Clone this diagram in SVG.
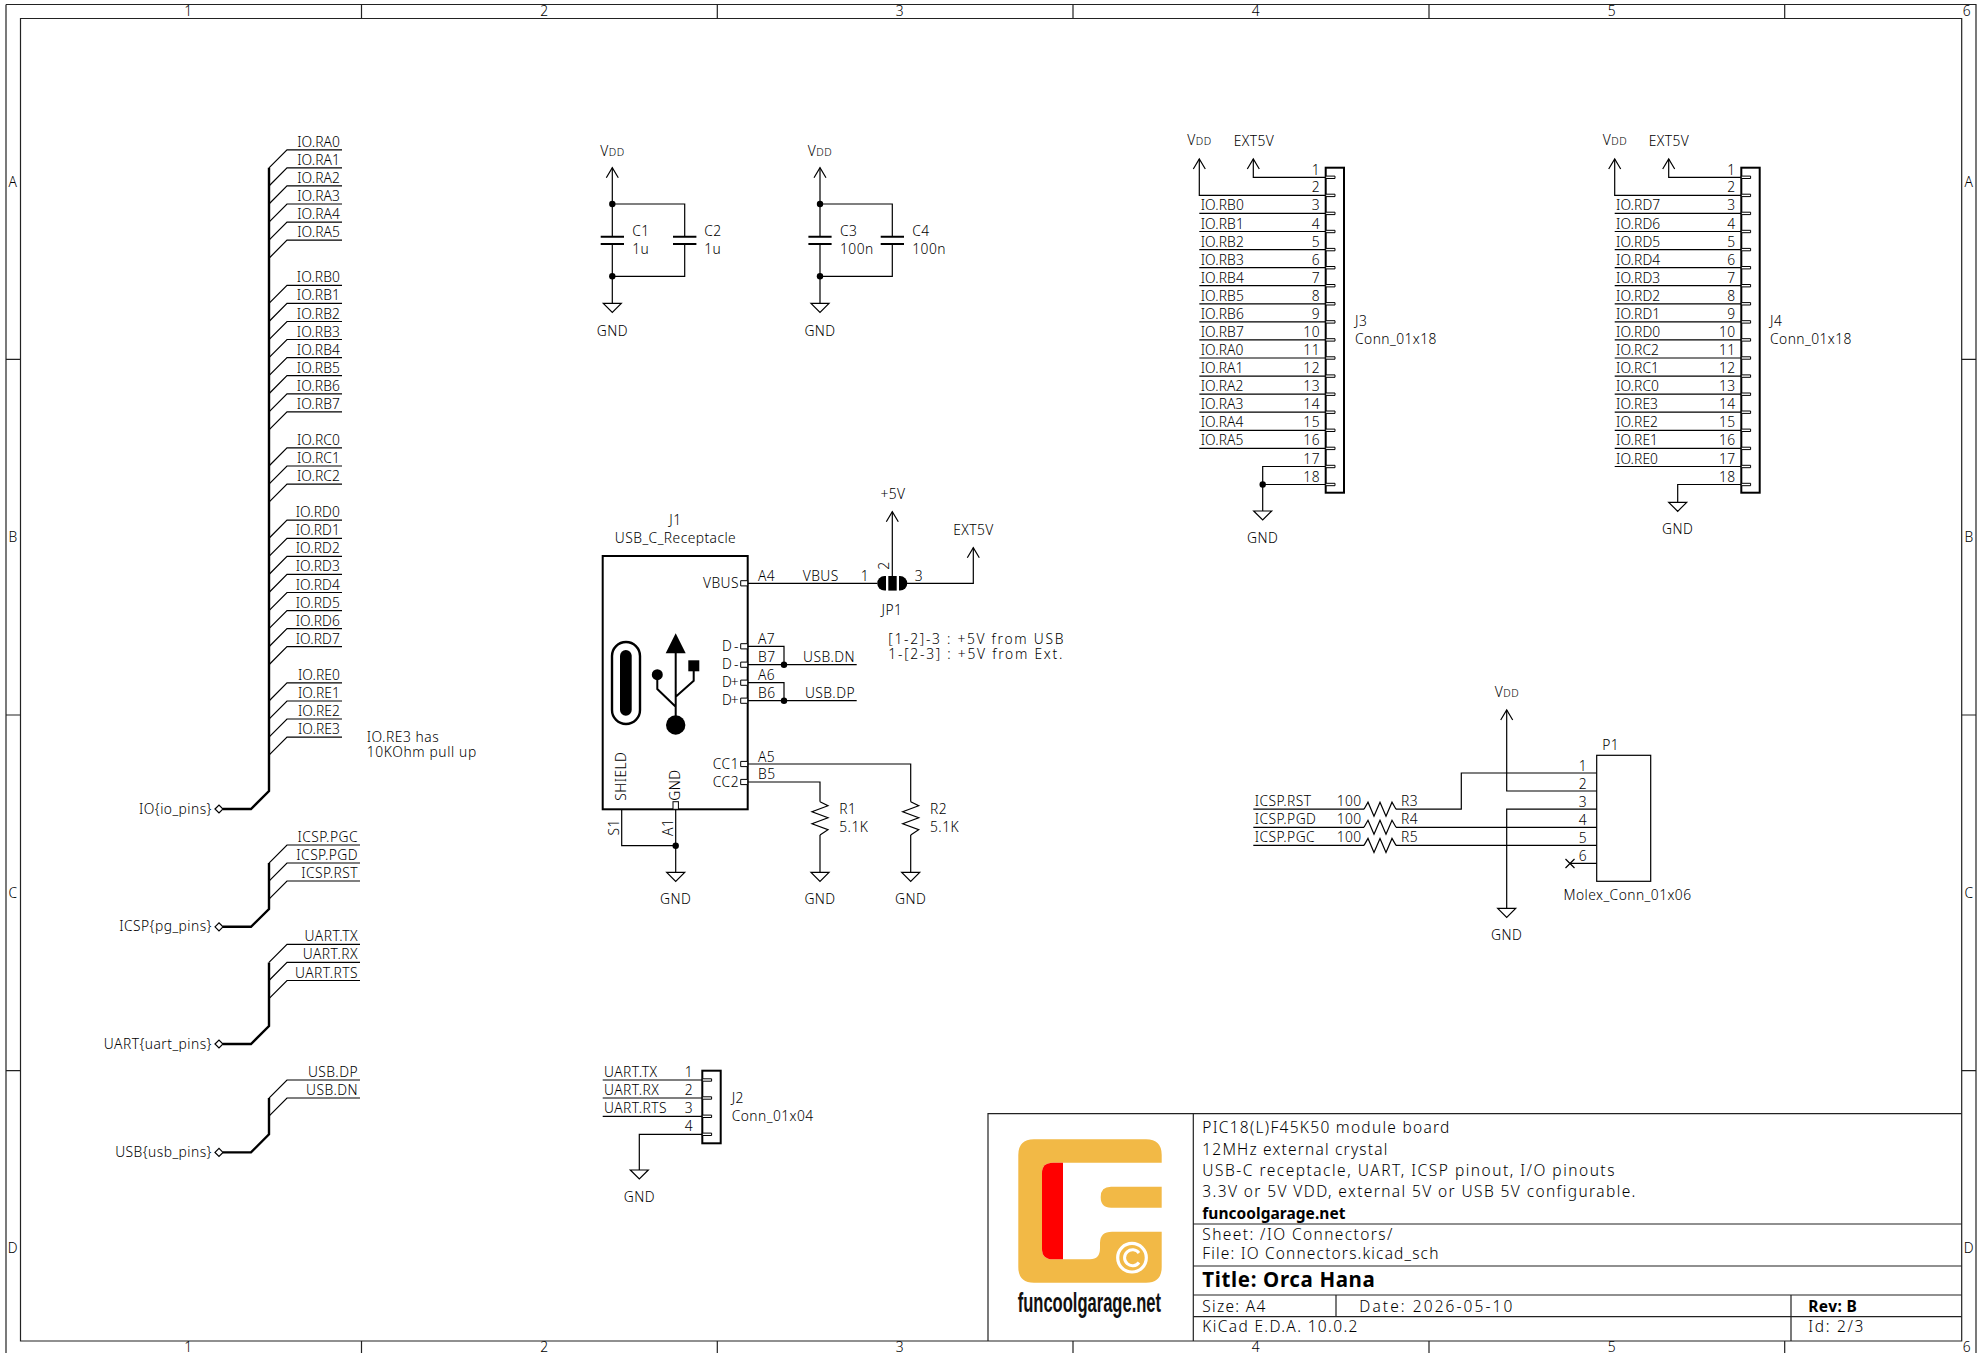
<svg xmlns="http://www.w3.org/2000/svg" width="1984" height="1353" viewBox="0 0 1984 1353">
<style>
text{font-family:"Noto Sans","DejaVu Sans",sans-serif;font-size:13.8px;font-weight:300;fill:#000;letter-spacing:.45px}
.e{text-anchor:end}.m{text-anchor:middle}
.tb{font-size:15.5px;letter-spacing:.9px}
.b{font-weight:700}
.io{letter-spacing:.1px}
.w{fill:none;stroke:#000;stroke-width:1.2}
.bus{fill:none;stroke:#000;stroke-width:2.4}
.s{fill:none;stroke:#000;stroke-width:2}
.f{fill:none;stroke:#222;stroke-width:1.2}
.d{fill:#000}
.pad{fill:#fff;stroke:#000;stroke-width:1}
.sm{font-size:10.5px}
</style>
<defs>
<path id="pwr" class="w" d="M-6,10 L0,0 L6,10"/>
<path id="gnd" class="w" d="M-9,0 H9 L0,9 Z"/>
<path id="en" class="w" d="M269,18.07 L287,0 H342"/>
<path id="en2" class="w" d="M269,18.07 L287,0 H360"/>
<path id="padr" class="pad" d="M0,-1.2 H9.3 V1.2 H0 Z"/>
<path id="padl" class="pad" d="M-7,-2.6 H0 V2.6 H-7 Z"/>
<path id="rv" class="w" d="M0,0 L8,4 L-8,10 L8,16 L-8,22 L8,28 L0,33.3"/>
<path id="rh" class="w" d="M0,0 L4,-7 L10,7 L16,-7 L22,7 L28,-7 L32,0"/>
</defs>
<rect width="1984" height="1353" fill="#fff"/>

<g id="frame">
<path class="f" d="M6,4.5 H1976 V1353 M6,1353 V4.5 M20.5,18.5 H1961.7 V1341 H20.5 Z"/>
<path class="f" d="M361.5,4.5 V18.5 M717.3,4.5 V18.5 M1073,4.5 V18.5 M1429,4.5 V18.5 M1784.7,4.5 V18.5 M361.5,1341 V1353 M717.3,1341 V1353 M1073,1341 V1353 M1429,1341 V1353 M1784.7,1341 V1353"/>
<path class="f" d="M6,359.4 H20.5 M6,715 H20.5 M6,1070.7 H20.5 M1961.7,359.4 H1976 M1961.7,715 H1976 M1961.7,1070.7 H1976"/>
<text class="m" x="188.5" y="16">1</text><text class="m" x="544.5" y="16">2</text><text class="m" x="900" y="16">3</text><text class="m" x="1256" y="16">4</text><text class="m" x="1612" y="16">5</text><text class="m" x="1967" y="16">6</text>
<text class="m" x="188.5" y="1352">1</text><text class="m" x="544.5" y="1352">2</text><text class="m" x="900" y="1352">3</text><text class="m" x="1256" y="1352">4</text><text class="m" x="1612" y="1352">5</text><text class="m" x="1967" y="1352">6</text>
<text class="m" x="13" y="187">A</text><text class="m" x="13" y="542">B</text><text class="m" x="13" y="898">C</text><text class="m" x="13" y="1253">D</text>
<text class="m" x="1969" y="187">A</text><text class="m" x="1969" y="542">B</text><text class="m" x="1969" y="898">C</text><text class="m" x="1969" y="1253">D</text>
</g>

<g id="title-block">
<path class="f" d="M988,1341 V1113.7 H1961.7 M1193.3,1113.7 V1341 M1193.3,1224 H1961.7 M1193.3,1266 H1961.7 M1193.3,1295 H1961.7 M1193.3,1316.7 H1961.7 M1336,1295 V1316.7 M1791,1295 V1341"/>
<text class="tb" x="1202.3" y="1133.3" textLength="248">PIC18(L)F45K50 module board</text>
<text class="tb" x="1202.3" y="1155" textLength="186">12MHz external crystal</text>
<text class="tb" x="1202.3" y="1176.3" textLength="413">USB-C receptacle, UART, ICSP pinout, I/O pinouts</text>
<text class="tb" x="1202.3" y="1197.3" textLength="434">3.3V or 5V VDD, external 5V or USB 5V configurable.</text>
<text class="tb b" x="1202.3" y="1219" textLength="144">funcoolgarage.net</text>
<text class="tb" x="1202.3" y="1240" textLength="191">Sheet: /IO Connectors/</text>
<text class="tb" x="1202.3" y="1259.3" textLength="237">File: IO Connectors.kicad_sch</text>
<text class="b" style="font-size:20.5px" x="1202.3" y="1286.7" textLength="173">Title: Orca Hana</text>
<text class="tb" x="1202.3" y="1312.3" textLength="64">Size: A4</text>
<text class="tb" x="1359.3" y="1312.3" textLength="154">Date: 2026-05-10</text>
<text class="tb" x="1202.3" y="1332.3" textLength="156">KiCad E.D.A. 10.0.2</text>
<text class="tb b" x="1808.3" y="1312.3" textLength="49.5">Rev: B</text>
<text class="tb" x="1808.3" y="1332.3" textLength="56">Id: 2/3</text>
</g>

<g id="logo">
<path fill="#F2B946" d="M1034,1139.3 H1146 Q1161.7,1139.3 1161.7,1155 V1162.7 H1053 Q1042,1162.7 1042,1173 V1249 Q1042,1259.3 1053,1259.3 H1090 Q1100,1259.3 1100,1248 V1243 Q1100,1231.7 1112,1231.7 H1161.7 V1267 Q1161.7,1282.7 1146,1282.7 H1034 Q1018.3,1282.7 1018.3,1267 V1155 Q1018.3,1139.3 1034,1139.3 Z"/>
<path fill="#F2B946" d="M1161.7,1186.7 H1111 Q1100.7,1186.7 1100.7,1197 Q1100.7,1207.7 1111,1207.7 H1161.7 Z"/>
<path fill="#FF0000" d="M1063,1162.7 H1053 Q1042,1162.7 1042,1173 V1249 Q1042,1259.3 1053,1259.3 H1063 Z"/>
<circle cx="1132" cy="1257.7" r="14.3" fill="none" stroke="#fff" stroke-width="3.2"/>
<path d="M1139,1253 A8,8 0 1 0 1139,1262.5" fill="none" stroke="#fff" stroke-width="3"/>
<text class="b" style="font-family:'Liberation Sans',sans-serif;font-size:28px;fill:#111;letter-spacing:0" transform="translate(1017.7,1311.7) scale(.591,1)">funcoolgarage.net</text>
</g>

<g id="connectors">
<path class="bus" d="M269,167.8 V791 L251,809 H223"/>
<path class="bus" d="M269,863 V909 L251,926.8 H223"/>
<path class="bus" d="M269,962.4 V1026 L251,1044 H223"/>
<path class="bus" d="M269,1098 V1134.3 L251,1152.4 H223"/>
<use href="#en" y="149.8"/><use href="#en" y="167.9"/><use href="#en" y="185.9"/><use href="#en" y="204"/><use href="#en" y="222.1"/><use href="#en" y="240.2"/>
<use href="#en" y="285.3"/><use href="#en" y="303.4"/><use href="#en" y="321.5"/><use href="#en" y="339.5"/><use href="#en" y="357.6"/><use href="#en" y="375.7"/><use href="#en" y="393.8"/><use href="#en" y="411.8"/>
<use href="#en" y="447.9"/><use href="#en" y="466"/><use href="#en" y="484.1"/>
<use href="#en" y="520.2"/><use href="#en" y="538.3"/><use href="#en" y="556.4"/><use href="#en" y="574.4"/><use href="#en" y="592.5"/><use href="#en" y="610.6"/><use href="#en" y="628.7"/><use href="#en" y="646.7"/>
<use href="#en" y="682.9"/><use href="#en" y="701"/><use href="#en" y="719"/><use href="#en" y="737.1"/>
<use href="#en2" y="845"/><use href="#en2" y="863"/><use href="#en2" y="881"/>
<use href="#en2" y="944.3"/><use href="#en2" y="962.4"/><use href="#en2" y="980.5"/>
<use href="#en2" y="1080"/><use href="#en2" y="1098"/>
<path class="w" d="M612.3,167.7 V236.7 M612.3,244 V303.3 M612.3,204 H684.7 V236.7 M684.7,244 V276.3 H612.3"/>
<path class="w" d="M820,167.7 V236.7 M820,244 V303.3 M820,204 H892.3 V236.7 M892.3,244 V276.3 H820"/>
<path class="w" d="M747.7,583.3 H877 M892.3,576 V511.7 M907,583.3 H973.3 V547.7"/>
<path class="w" d="M747.7,646.3 H784 V664.7 M747.7,664.7 H856.7 M747.7,682.7 H784 V700.7 M747.7,700.7 H856.7"/>
<path class="w" d="M747.7,764 H910.7 V801.7 M910.7,835 V872.3 M747.7,782 H820 V801.7 M820,835 V872.3"/>
<path class="w" d="M621.7,809.3 V845.7 H675.7 M675.7,809.3 V872.3"/>
<path class="w" d="M1253.3,159 V177.3 H1325.7 M1199.3,159 V195.4 H1325.7"/>
<path class="w" d="M1199.3,213.4 H1325.7 M1199.3,231.5 H1325.7 M1199.3,249.6 H1325.7 M1199.3,267.7 H1325.7 M1199.3,285.7 H1325.7 M1199.3,303.8 H1325.7 M1199.3,321.9 H1325.7 M1199.3,339.9 H1325.7 M1199.3,358 H1325.7 M1199.3,376.1 H1325.7 M1199.3,394.2 H1325.7 M1199.3,412.2 H1325.7 M1199.3,430.3 H1325.7 M1199.3,448.4 H1325.7"/>
<path class="w" d="M1325.7,466.5 H1262.7 V511 M1262.7,484.5 H1325.7"/>
<path class="w" d="M1668.7,159 V177.3 H1741.3 M1614.7,159 V195.4 H1741.3"/>
<path class="w" d="M1614.7,213.4 H1741.3 M1614.7,231.5 H1741.3 M1614.7,249.6 H1741.3 M1614.7,267.7 H1741.3 M1614.7,285.7 H1741.3 M1614.7,303.8 H1741.3 M1614.7,321.9 H1741.3 M1614.7,339.9 H1741.3 M1614.7,358 H1741.3 M1614.7,376.1 H1741.3 M1614.7,394.2 H1741.3 M1614.7,412.2 H1741.3 M1614.7,430.3 H1741.3 M1614.7,448.4 H1741.3 M1614.7,466.5 H1741.3"/>
<path class="w" d="M1741.3,484.5 H1677.7 V502.3"/>
<path class="w" d="M602.7,1080 H702.3 M602.7,1098 H702.3 M602.7,1116.3 H702.3 M702.3,1134.3 H639.3 V1170"/>
<path class="w" d="M1506.7,710 V791 H1596.7 M1596.7,809.2 H1506.7 V908.3 M1596.7,773 H1461.3 V809.2 H1396 M1253.3,809.2 H1364 M1253.3,827.3 H1364 M1396,827.3 H1596.7 M1253.3,845.4 H1364 M1396,845.4 H1596.7 M1596.7,863.4 H1570"/>
<path class="w" d="M1565.5,859 L1574.5,868 M1574.5,859 L1565.5,868"/>
</g>

<g id="labels-io">
<text class="e io" x="340" y="146.8">IO.RA0</text><text class="e io" x="340" y="164.9">IO.RA1</text><text class="e io" x="340" y="182.9">IO.RA2</text><text class="e io" x="340" y="201">IO.RA3</text><text class="e io" x="340" y="219.1">IO.RA4</text><text class="e io" x="340" y="237.2">IO.RA5</text>
<text class="e io" x="340" y="282.3">IO.RB0</text><text class="e io" x="340" y="300.4">IO.RB1</text><text class="e io" x="340" y="318.5">IO.RB2</text><text class="e io" x="340" y="336.5">IO.RB3</text><text class="e io" x="340" y="354.6">IO.RB4</text><text class="e io" x="340" y="372.7">IO.RB5</text><text class="e io" x="340" y="390.8">IO.RB6</text><text class="e io" x="340" y="408.8">IO.RB7</text>
<text class="e io" x="340" y="444.9">IO.RC0</text><text class="e io" x="340" y="463">IO.RC1</text><text class="e io" x="340" y="481.1">IO.RC2</text>
<text class="e io" x="340" y="517.2">IO.RD0</text><text class="e io" x="340" y="535.3">IO.RD1</text><text class="e io" x="340" y="553.4">IO.RD2</text><text class="e io" x="340" y="571.4">IO.RD3</text><text class="e io" x="340" y="589.5">IO.RD4</text><text class="e io" x="340" y="607.6">IO.RD5</text><text class="e io" x="340" y="625.7">IO.RD6</text><text class="e io" x="340" y="643.7">IO.RD7</text>
<text class="e io" x="340" y="679.9">IO.RE0</text><text class="e io" x="340" y="698">IO.RE1</text><text class="e io" x="340" y="716">IO.RE2</text><text class="e io" x="340" y="734.1">IO.RE3</text>
<text class="e" x="358" y="842">ICSP.PGC</text><text class="e" x="358" y="860">ICSP.PGD</text><text class="e" x="358" y="878">ICSP.RST</text>
<text class="e" x="358" y="941.3">UART.TX</text><text class="e" x="358" y="959.4">UART.RX</text><text class="e" x="358" y="977.5">UART.RTS</text>
<text class="e" x="358" y="1077">USB.DP</text><text class="e" x="358" y="1095">USB.DN</text>
<text><tspan x="366.7" y="741.7" textLength="72.5">IO.RE3 has</tspan><tspan x="366.7" y="756.7" textLength="110">10KOhm pull up</tspan></text>
</g>

<g id="port-io"><path class="w" d="M215,809 L219,805 L223,809 L219,813 Z"/><text class="e" x="212" y="813.5">IO{io_pins}</text></g>
<g id="port-icsp"><path class="w" d="M215,926.8 L219,922.8 L223,926.8 L219,930.8 Z"/><text class="e" x="212" y="931.3">ICSP{pg_pins}</text></g>
<g id="port-uart"><path class="w" d="M215,1044 L219,1040 L223,1044 L219,1048 Z"/><text class="e" x="212" y="1048.5">UART{uart_pins}</text></g>
<g id="port-usb"><path class="w" d="M215,1152.4 L219,1148.4 L223,1152.4 L219,1156.4 Z"/><text class="e" x="212" y="1156.9">USB{usb_pins}</text></g>

<g id="C1"><path class="s" d="M600.7,236.7 H624 M600.7,244 H624"/><text x="632.3" y="236">C1</text><text x="632.3" y="254">1u</text></g>
<g id="C2"><path class="s" d="M673,236.7 H696.4 M673,244 H696.4"/><text x="704.3" y="236">C2</text><text x="704.3" y="254">1u</text></g>
<g id="C3"><path class="s" d="M808.4,236.7 H831.6 M808.4,244 H831.6"/><text x="840" y="236">C3</text><text x="840" y="254">100n</text></g>
<g id="C4"><path class="s" d="M880.7,236.7 H904 M880.7,244 H904"/><text x="912.3" y="236">C4</text><text x="912.3" y="254">100n</text></g>
<g id="pwr-caps">
<use href="#pwr" x="612.3" y="167.7"/><text class="m" x="612.5" y="155.5">V<tspan class="sm">DD</tspan></text>
<circle class="d" cx="612.3" cy="204" r="3.2"/><circle class="d" cx="612.3" cy="276.3" r="3.2"/>
<use href="#gnd" x="612.3" y="303.3"/><text class="m" x="612.3" y="335.7">GND</text>
<use href="#pwr" x="820" y="167.7"/><text class="m" x="820" y="155.5">V<tspan class="sm">DD</tspan></text>
<circle class="d" cx="820" cy="204" r="3.2"/><circle class="d" cx="820" cy="276.3" r="3.2"/>
<use href="#gnd" x="820" y="303.3"/><text class="m" x="820" y="335.7">GND</text>
</g>

<g id="J1">
<rect class="s" x="602.7" y="556" width="145" height="253.3"/>
<text class="m" x="675.5" y="524.7">J1</text><text class="m" x="675.5" y="542.7">USB_C_Receptacle</text>
<use href="#padl" x="747.7" y="583.3"/><use href="#padl" x="747.7" y="646.3"/><use href="#padl" x="747.7" y="664.7"/><use href="#padl" x="747.7" y="682.7"/><use href="#padl" x="747.7" y="700.7"/><use href="#padl" x="747.7" y="764"/><use href="#padl" x="747.7" y="782"/>
<rect class="pad" x="673" y="801.7" width="5.4" height="7.6"/>
<text class="e" x="739" y="587.8">VBUS</text><text class="e" x="739" y="650.8" textLength="17">D-</text><text class="e" x="739" y="669.2" textLength="17">D-</text><text class="e" x="739" y="687.2" textLength="17">D+</text><text class="e" x="739" y="705.2" textLength="17">D+</text><text class="e" x="739" y="768.5">CC1</text><text class="e" x="739" y="786.5">CC2</text>
<text x="758" y="580.7">A4</text><text x="758" y="644">A7</text><text x="758" y="661.7">B7</text><text x="758" y="680">A6</text><text x="758" y="698">B6</text><text x="758" y="761.7">A5</text><text x="758" y="779.3">B5</text>
<text x="802.7" y="580.7">VBUS</text><text class="e" x="855" y="661.7">USB.DN</text><text class="e" x="855" y="697.7">USB.DP</text>
<circle class="d" cx="784" cy="664.7" r="3.2"/><circle class="d" cx="784" cy="700.7" r="3.2"/><circle class="d" cx="675.7" cy="845.7" r="3.2"/>
<text transform="translate(626,800.7) rotate(-90)">SHIELD</text>
<text transform="translate(680,800.7) rotate(-90)">GND</text>
<text class="m" transform="translate(619.3,827.3) rotate(-90)">S1</text>
<text class="m" transform="translate(673.3,827.3) rotate(-90)">A1</text>
<rect x="612" y="642" width="28" height="82" rx="14" fill="none" stroke="#000" stroke-width="2.4"/>
<rect x="620" y="650" width="11.7" height="65.7" rx="5.8" fill="#000"/>
<path fill="#000" d="M675.7,633.3 L685.7,653.3 H665.7 Z"/>
<circle class="d" cx="675.7" cy="725" r="9.7"/>
<circle class="d" cx="657.3" cy="674.7" r="5.5"/>
<rect class="d" x="688.3" y="660.3" width="11" height="11"/>
<path class="s" d="M675.7,650 V720 M657.3,676 V689 L675.7,706.7 M693.7,670 V680.7 L675.7,696.7"/>
<use href="#gnd" x="675.7" y="872.3"/><text class="m" x="675.7" y="904.3">GND</text>
</g>

<g id="JP1">
<path class="d" d="M886,576 V590.6 H884.5 A7.3,7.3 0 0 1 884.5,576 Z"/>
<rect class="d" x="888.3" y="576" width="8.4" height="14.6"/>
<path class="d" d="M899,576 V590.6 H900 A7.3,7.3 0 0 0 900,576 Z"/>
<text class="m" x="865" y="580.7">1</text><text class="m" x="919" y="580.7">3</text>
<text class="m" transform="translate(889,565.7) rotate(-90)">2</text>
<text class="m" x="892" y="614.7">JP1</text>
<use href="#pwr" x="892.3" y="511.7"/><text class="m" x="893" y="498.5">+5V</text>
<use href="#pwr" x="973.3" y="547.7"/><text class="m" x="973.5" y="534.5">EXT5V</text>
<text><tspan x="888.3" y="644" textLength="175.5">[1-2]-3 : +5V from USB</tspan><tspan x="888.3" y="659" textLength="174.5">1-[2-3] : +5V from Ext.</tspan></text>
</g>

<g id="R1"><use href="#rv" x="820" y="801.7"/><text x="839.3" y="814">R1</text><text x="839.3" y="832">5.1K</text><use href="#gnd" x="820" y="872.3"/><text class="m" x="820" y="904.3">GND</text></g>
<g id="R2"><use href="#rv" x="910.7" y="801.7"/><text x="930" y="814">R2</text><text x="930" y="832">5.1K</text><use href="#gnd" x="910.7" y="872.3"/><text class="m" x="910.7" y="904.3">GND</text></g>

<g id="J2">
<rect class="s" x="702.3" y="1070.7" width="18.4" height="72.6"/>
<use href="#padr" x="702.3" y="1080"/><use href="#padr" x="702.3" y="1098"/><use href="#padr" x="702.3" y="1116.3"/><use href="#padr" x="702.3" y="1134.3"/>
<text x="604" y="1077">UART.TX</text><text x="604" y="1095">UART.RX</text><text x="604" y="1113.3">UART.RTS</text>
<text class="m" x="689" y="1077">1</text><text class="m" x="689" y="1095">2</text><text class="m" x="689" y="1113.3">3</text><text class="m" x="689" y="1131.3">4</text>
<text x="731.7" y="1102.7">J2</text><text x="731.7" y="1120.7">Conn_01x04</text>
<use href="#gnd" x="639.3" y="1170"/><text class="m" x="639.3" y="1201.7">GND</text>
</g>

<g id="J3">
<rect class="s" x="1325.7" y="167.7" width="18.3" height="325"/>
<use href="#padr" x="1325.7" y="177.3"/><use href="#padr" x="1325.7" y="195.4"/><use href="#padr" x="1325.7" y="213.4"/><use href="#padr" x="1325.7" y="231.5"/><use href="#padr" x="1325.7" y="249.6"/><use href="#padr" x="1325.7" y="267.7"/><use href="#padr" x="1325.7" y="285.7"/><use href="#padr" x="1325.7" y="303.8"/><use href="#padr" x="1325.7" y="321.9"/><use href="#padr" x="1325.7" y="339.9"/><use href="#padr" x="1325.7" y="358"/><use href="#padr" x="1325.7" y="376.1"/><use href="#padr" x="1325.7" y="394.2"/><use href="#padr" x="1325.7" y="412.2"/><use href="#padr" x="1325.7" y="430.3"/><use href="#padr" x="1325.7" y="448.4"/><use href="#padr" x="1325.7" y="466.5"/><use href="#padr" x="1325.7" y="484.5"/>
<text class="e" x="1320" y="174.8">1</text><text class="e" x="1320" y="192.4">2</text><text class="e" x="1320" y="210.4">3</text><text class="e" x="1320" y="228.5">4</text><text class="e" x="1320" y="246.6">5</text><text class="e" x="1320" y="264.7">6</text><text class="e" x="1320" y="282.7">7</text><text class="e" x="1320" y="300.8">8</text><text class="e" x="1320" y="318.9">9</text><text class="e" x="1320" y="336.9">10</text><text class="e" x="1320" y="355">11</text><text class="e" x="1320" y="373.1">12</text><text class="e" x="1320" y="391.2">13</text><text class="e" x="1320" y="409.2">14</text><text class="e" x="1320" y="427.3">15</text><text class="e" x="1320" y="445.4">16</text><text class="e" x="1320" y="463.5">17</text><text class="e" x="1320" y="481.5">18</text>
<text class="io" x="1200.7" y="210.4">IO.RB0</text><text class="io" x="1200.7" y="228.5">IO.RB1</text><text class="io" x="1200.7" y="246.6">IO.RB2</text><text class="io" x="1200.7" y="264.7">IO.RB3</text><text class="io" x="1200.7" y="282.7">IO.RB4</text><text class="io" x="1200.7" y="300.8">IO.RB5</text><text class="io" x="1200.7" y="318.9">IO.RB6</text><text class="io" x="1200.7" y="336.9">IO.RB7</text><text class="io" x="1200.7" y="355">IO.RA0</text><text class="io" x="1200.7" y="373.1">IO.RA1</text><text class="io" x="1200.7" y="391.2">IO.RA2</text><text class="io" x="1200.7" y="409.2">IO.RA3</text><text class="io" x="1200.7" y="427.3">IO.RA4</text><text class="io" x="1200.7" y="445.4">IO.RA5</text>
<text x="1355" y="325.7">J3</text><text x="1355" y="344">Conn_01x18</text>
<use href="#pwr" x="1199.3" y="159"/><text class="m" x="1199.5" y="145.3">V<tspan class="sm">DD</tspan></text>
<use href="#pwr" x="1253.3" y="159"/><text class="m" x="1254" y="145.5">EXT5V</text>
<circle class="d" cx="1262.7" cy="484.5" r="3.2"/>
<use href="#gnd" x="1262.7" y="511"/><text class="m" x="1262.7" y="542.7">GND</text>
</g>

<g id="J4">
<rect class="s" x="1741.3" y="167.7" width="18.4" height="325"/>
<use href="#padr" x="1741.3" y="177.3"/><use href="#padr" x="1741.3" y="195.4"/><use href="#padr" x="1741.3" y="213.4"/><use href="#padr" x="1741.3" y="231.5"/><use href="#padr" x="1741.3" y="249.6"/><use href="#padr" x="1741.3" y="267.7"/><use href="#padr" x="1741.3" y="285.7"/><use href="#padr" x="1741.3" y="303.8"/><use href="#padr" x="1741.3" y="321.9"/><use href="#padr" x="1741.3" y="339.9"/><use href="#padr" x="1741.3" y="358"/><use href="#padr" x="1741.3" y="376.1"/><use href="#padr" x="1741.3" y="394.2"/><use href="#padr" x="1741.3" y="412.2"/><use href="#padr" x="1741.3" y="430.3"/><use href="#padr" x="1741.3" y="448.4"/><use href="#padr" x="1741.3" y="466.5"/><use href="#padr" x="1741.3" y="484.5"/>
<text class="e" x="1735.7" y="174.8">1</text><text class="e" x="1735.7" y="192.4">2</text><text class="e" x="1735.7" y="210.4">3</text><text class="e" x="1735.7" y="228.5">4</text><text class="e" x="1735.7" y="246.6">5</text><text class="e" x="1735.7" y="264.7">6</text><text class="e" x="1735.7" y="282.7">7</text><text class="e" x="1735.7" y="300.8">8</text><text class="e" x="1735.7" y="318.9">9</text><text class="e" x="1735.7" y="336.9">10</text><text class="e" x="1735.7" y="355">11</text><text class="e" x="1735.7" y="373.1">12</text><text class="e" x="1735.7" y="391.2">13</text><text class="e" x="1735.7" y="409.2">14</text><text class="e" x="1735.7" y="427.3">15</text><text class="e" x="1735.7" y="445.4">16</text><text class="e" x="1735.7" y="463.5">17</text><text class="e" x="1735.7" y="481.5">18</text>
<text class="io" x="1616" y="210.4">IO.RD7</text><text class="io" x="1616" y="228.5">IO.RD6</text><text class="io" x="1616" y="246.6">IO.RD5</text><text class="io" x="1616" y="264.7">IO.RD4</text><text class="io" x="1616" y="282.7">IO.RD3</text><text class="io" x="1616" y="300.8">IO.RD2</text><text class="io" x="1616" y="318.9">IO.RD1</text><text class="io" x="1616" y="336.9">IO.RD0</text><text class="io" x="1616" y="355">IO.RC2</text><text class="io" x="1616" y="373.1">IO.RC1</text><text class="io" x="1616" y="391.2">IO.RC0</text><text class="io" x="1616" y="409.2">IO.RE3</text><text class="io" x="1616" y="427.3">IO.RE2</text><text class="io" x="1616" y="445.4">IO.RE1</text><text class="io" x="1616" y="463.5">IO.RE0</text>
<text x="1770" y="325.7">J4</text><text x="1770" y="344">Conn_01x18</text>
<use href="#pwr" x="1614.7" y="159"/><text class="m" x="1615" y="145.3">V<tspan class="sm">DD</tspan></text>
<use href="#pwr" x="1668.7" y="159"/><text class="m" x="1669" y="145.5">EXT5V</text>
<use href="#gnd" x="1677.7" y="502.3"/><text class="m" x="1677.7" y="533.7">GND</text>
</g>

<g id="P1">
<rect class="w" x="1596.7" y="755.3" width="54" height="126"/>
<text x="1602.3" y="750">P1</text><text class="m" x="1627.5" y="900">Molex_Conn_01x06</text>
<text class="m" x="1583" y="771">1</text><text class="m" x="1583" y="788.5">2</text><text class="m" x="1583" y="806.5">3</text><text class="m" x="1583" y="824.5">4</text><text class="m" x="1583" y="842.5">5</text><text class="m" x="1583" y="860.5">6</text>
<use href="#pwr" x="1506.7" y="710"/><text class="m" x="1507" y="696.7">V<tspan class="sm">DD</tspan></text>
<use href="#gnd" x="1506.7" y="908.3"/><text class="m" x="1506.7" y="940.3">GND</text>
</g>
<g id="R3"><use href="#rh" x="1364" y="809.2"/><text x="1254.7" y="806">ICSP.RST</text><text class="e" x="1361.7" y="806">100</text><text x="1401" y="806">R3</text></g>
<g id="R4"><use href="#rh" x="1364" y="827.3"/><text x="1254.7" y="824.3">ICSP.PGD</text><text class="e" x="1361.7" y="824.3">100</text><text x="1401" y="824.3">R4</text></g>
<g id="R5"><use href="#rh" x="1364" y="845.4"/><text x="1254.7" y="842.4">ICSP.PGC</text><text class="e" x="1361.7" y="842.4">100</text><text x="1401" y="842.4">R5</text></g>
</svg>
